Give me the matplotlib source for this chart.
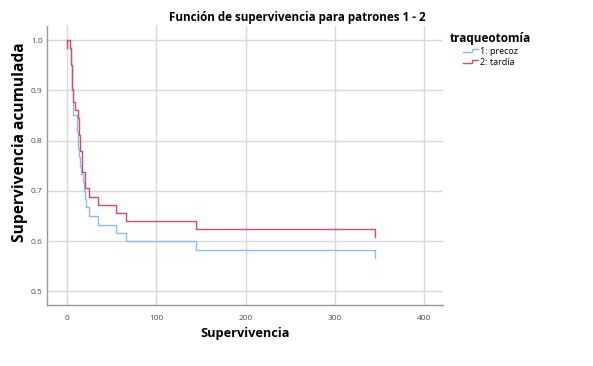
import matplotlib
matplotlib.use('Agg')
import matplotlib.pyplot as plt
from matplotlib.lines import Line2D
from matplotlib.legend_handler import HandlerLine2D

plt.rcParams['font.family'] = ['Open Sans', 'DejaVu Sans']

# Curvas de supervivencia (tiempo, supervivencia acumulada)
tiempo_precoz = [0, 0, 3.5, 4, 4.5, 5, 5.5, 6, 6.5, 6.8, 7.2, 10.9, 11.5, 12, 12.5,
                 13.5, 14.5, 15.7, 18.3, 19.4, 20.5, 21, 24.6, 35, 54.5, 66, 144.5, 345]
superv_precoz = [0.985, 1.0, 0.983, 0.967, 0.950, 0.933, 0.917, 0.900, 0.883, 0.867,
                 0.850, 0.833, 0.817, 0.800, 0.783, 0.767, 0.750, 0.733, 0.717, 0.700,
                 0.683, 0.667, 0.650, 0.633, 0.617, 0.600, 0.583, 0.567]

tiempo_tardia = [0, 0, 3.5, 4, 4.5, 5, 5.5, 6, 6.5, 9, 12.7, 13.2, 13.7, 14.2, 14.8,
                 16.5, 17, 20, 20.5, 24.6, 35, 54.5, 66, 144.5, 345]
superv_tardia = [0.985, 1.0, 0.984, 0.967, 0.951, 0.934, 0.918, 0.902, 0.877, 0.861,
                 0.845, 0.828, 0.812, 0.795, 0.779, 0.755, 0.738, 0.721, 0.705, 0.688,
                 0.672, 0.656, 0.640, 0.624, 0.608]

etiquetas = ['1: precoz', '2: tardía']
colores = ['#8dbde8', '#d64a6c']
x_ticks = [0, 100, 200, 300, 400]
y_ticks = [0.5, 0.6, 0.7, 0.8, 0.9, 1.0]


# Manejador de leyenda con forma de escalón
class HandlerEscalon(HandlerLine2D):
    def create_artists(self, legend, orig_handle, xdescent, ydescent, width, height, fontsize, trans):
        xs = [-xdescent, -xdescent + width * 0.6, -xdescent + width * 0.6, -xdescent + width]
        y0 = height * 0.3 - ydescent
        y1 = height * 0.75 - ydescent
        ys = [y0, y0, y1, y1]
        linea = Line2D(xs, ys, color=orig_handle.get_color(), linewidth=orig_handle.get_linewidth())
        linea.set_transform(trans)
        return [linea]


fig = plt.figure(figsize=(5.93, 3.66), dpi=100)
ax = fig.add_axes([0.0793, 0.1667, 0.668, 0.7623])

l1, = ax.step(tiempo_precoz, superv_precoz, where='post', color=colores[0], linewidth=1.0)
l2, = ax.step(tiempo_tardia, superv_tardia, where='post', color=colores[1], linewidth=1.0)

ax.set_xlim(-22.4, 421)
ax.set_ylim(0.473, 1.028)
ax.set_xticks(x_ticks)
ax.set_yticks(y_ticks)
ax.set_xticklabels([str(v) for v in x_ticks])
ax.set_yticklabels(['%.1f' % v for v in y_ticks])
ax.tick_params(length=0, labelsize=6, labelcolor='#4d4d4d')
ax.tick_params(axis='y', pad=3)
ax.tick_params(axis='x', pad=7)
ax.grid(True, color='#d9d9d9', linewidth=1.0)
ax.set_axisbelow(True)
for lado in ['top', 'right']:
    ax.spines[lado].set_visible(False)
for lado in ['left', 'bottom']:
    ax.spines[lado].set_color('#999999')
    ax.spines[lado].set_linewidth(1.0)

fig.text(0.413, 0.09, 'Supervivencia', fontsize=9.2, fontweight='bold',
         ha='center', va='center')
fig.text(0.034, 0.612, 'Supervivencia acumulada', rotation=90, fontsize=11.2,
         fontweight='bold', ha='center', va='center')
fig.text(0.501, 0.953, 'Función de supervivencia para patrones 1 - 2', fontsize=8.4,
         fontweight='bold', ha='center', va='center')

leg = fig.legend([l1, l2], etiquetas, loc='upper left', bbox_to_anchor=(0.745, 0.935),
                 title='traqueotomía', frameon=False, fontsize=6.5, handlelength=1.6,
                 handletextpad=0.2, labelspacing=0.2,
                 handler_map={Line2D: HandlerEscalon()})
leg.get_title().set_fontweight('bold')
leg.get_title().set_fontsize(8.5)

fig.savefig('out.png', dpi=100)
